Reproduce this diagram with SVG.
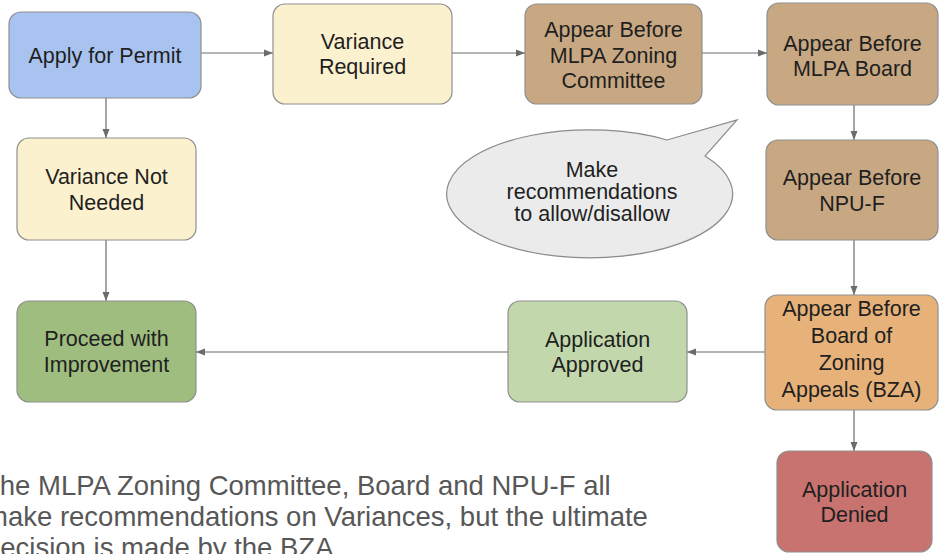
<svg xmlns="http://www.w3.org/2000/svg" width="939" height="554" viewBox="0 0 939 554">
<style>
  .box { stroke: #8f8f8f; stroke-width: 1.2; }
  .lbl { font-family: "Liberation Sans", Arial, Helvetica, sans-serif; font-size: 21.5px; fill: #1f1f1f; text-anchor: middle; }
  .edge { stroke: #6b6b6b; stroke-width: 1.2; fill: none; marker-end: url(#arr); }
  .note { font-family: "Liberation Sans", Arial, Helvetica, sans-serif; font-size: 27.5px; fill: #575757; }
</style>
<defs>
  <marker id="arr" markerUnits="userSpaceOnUse" markerWidth="10" markerHeight="8" refX="9" refY="4" orient="auto">
    <path d="M0,0.5 L9,4 L0,7.5 Z" fill="#6b6b6b"/>
  </marker>
</defs>
<rect width="939" height="554" fill="#ffffff"/>

<g id="connectors">
  <line class="edge" x1="201" y1="53" x2="273" y2="53"/>
  <line class="edge" x1="452" y1="53" x2="525" y2="53"/>
  <line class="edge" x1="702" y1="53" x2="767" y2="53"/>
  <line class="edge" x1="106" y1="98" x2="106" y2="138"/>
  <line class="edge" x1="106" y1="240" x2="106" y2="301"/>
  <line class="edge" x1="854" y1="105" x2="854" y2="140"/>
  <line class="edge" x1="854" y1="240" x2="854" y2="295"/>
  <line class="edge" x1="765" y1="352" x2="687" y2="352"/>
  <line class="edge" x1="508" y1="352" x2="196" y2="352"/>
  <line class="edge" x1="854" y1="410" x2="854" y2="451"/>
</g>

<g id="apply">
  <rect class="box" x="9" y="12" width="192" height="86" rx="12" fill="#a8c3ef"/>
  <text class="lbl" x="105" y="63">Apply for Permit</text>
</g>
<g id="varianceRequired">
  <rect class="box" x="273" y="4" width="179" height="100" rx="12" fill="#fcf1cf"/>
  <text class="lbl" x="362.5" y="49">Variance</text>
  <text class="lbl" x="362.5" y="74">Required</text>
</g>
<g id="zoning">
  <rect class="box" x="525" y="4" width="177" height="100" rx="12" fill="#c8a882"/>
  <text class="lbl" x="613.5" y="37">Appear Before</text>
  <text class="lbl" x="613.5" y="63">MLPA Zoning</text>
  <text class="lbl" x="613.5" y="88">Committee</text>
</g>
<g id="board">
  <rect class="box" x="767" y="3" width="171" height="102" rx="12" fill="#c8a882"/>
  <text class="lbl" x="852.5" y="51">Appear Before</text>
  <text class="lbl" x="852.5" y="76">MLPA Board</text>
</g>
<g id="varianceNotNeeded">
  <rect class="box" x="17" y="138" width="179" height="102" rx="12" fill="#fcf1cf"/>
  <text class="lbl" x="106.5" y="184">Variance Not</text>
  <text class="lbl" x="106.5" y="210">Needed</text>
</g>
<g id="npu">
  <rect class="box" x="766" y="140" width="172" height="100" rx="12" fill="#c8a882"/>
  <text class="lbl" x="852" y="185">Appear Before</text>
  <text class="lbl" x="852" y="211">NPU-F</text>
</g>
<g id="bubble">
  <path d="M705 156 A143 64 0 1 1 667 140 L737 120 Z" fill="#ebebeb" stroke="#8a8a8a" stroke-width="1.2"/>
  <text class="lbl" x="592" y="177">Make</text>
  <text class="lbl" x="592" y="199">recommendations</text>
  <text class="lbl" x="592" y="221">to allow/disallow</text>
</g>
<g id="proceed">
  <rect class="box" x="17" y="301" width="179" height="101" rx="12" fill="#9ebd7f"/>
  <text class="lbl" x="106.5" y="346">Proceed with</text>
  <text class="lbl" x="106.5" y="372">Improvement</text>
</g>
<g id="approved">
  <rect class="box" x="508" y="301" width="179" height="101" rx="12" fill="#c2d8ac"/>
  <text class="lbl" x="597.5" y="347">Application</text>
  <text class="lbl" x="597.5" y="372">Approved</text>
</g>
<g id="bza">
  <rect class="box" x="765" y="295" width="173" height="115" rx="12" fill="#e6b27a"/>
  <text class="lbl" x="851.5" y="316">Appear Before</text>
  <text class="lbl" x="851.5" y="343">Board of</text>
  <text class="lbl" x="851.5" y="370">Zoning</text>
  <text class="lbl" x="851.5" y="397">Appeals (BZA)</text>
</g>
<g id="denied">
  <rect class="box" x="777" y="451" width="155" height="101" rx="12" fill="#c87370"/>
  <text class="lbl" x="854.5" y="497">Application</text>
  <text class="lbl" x="854.5" y="522">Denied</text>
</g>

<g id="footnote">
  <text class="note" x="-17" y="495">The MLPA Zoning Committee, Board and NPU-F all</text>
  <text class="note" x="-15" y="526">make recommendations on Variances, but the ultimate</text>
  <text class="note" x="-15" y="557">decision is made by the BZA</text>
</g>
</svg>
